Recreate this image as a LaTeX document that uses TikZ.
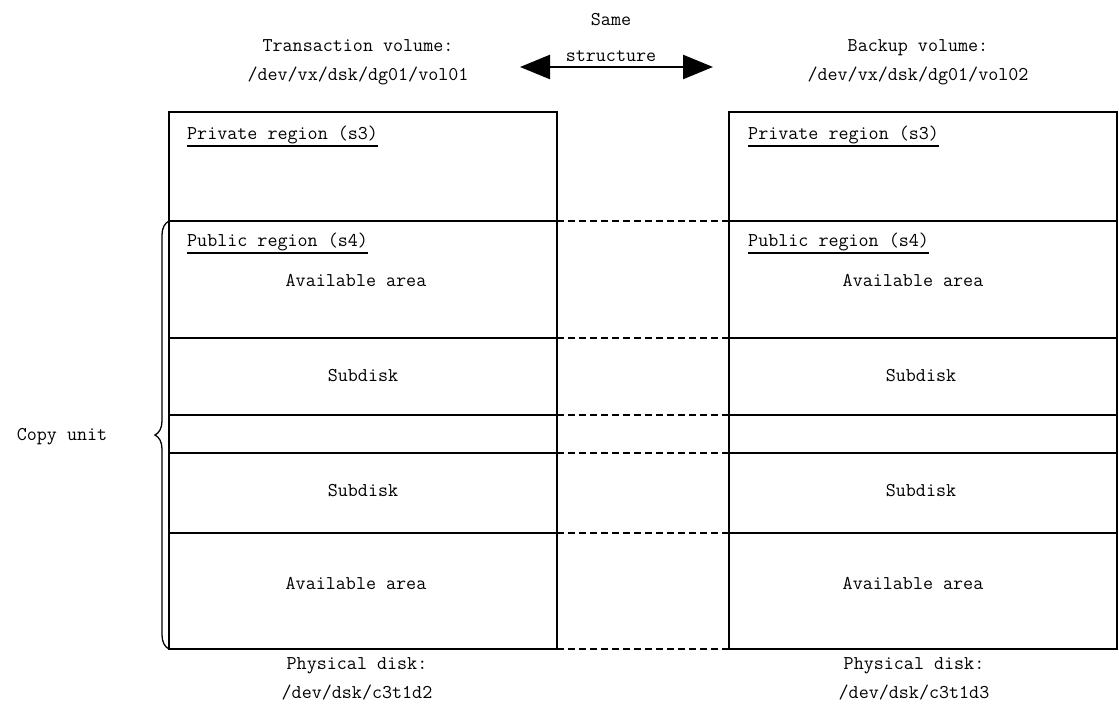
\documentclass[tikz,border=0pt]{standalone}
\usepackage{fontspec}
\usetikzlibrary{arrows.meta,decorations.pathreplacing}
\begin{document}
\begin{tikzpicture}[x=1pt,y=-1pt,
  seg/.style={draw,line width=1.3pt,minimum width=388pt,inner sep=0pt,outer sep=0pt,anchor=north west},
  lbl/.style={font=\fontsize{19.5}{29}\selectfont\ttfamily,inner sep=0pt,align=center},
  tag/.style={font=\fontsize{19.5}{29}\selectfont\ttfamily,inner sep=0pt,anchor=base west},
  uline/.style={line width=1.3pt},
  link/.style={line width=1.3pt,dash pattern=on 7pt off 4pt},
  bigarrow/.style={line width=2.5pt,{Triangle[length=30pt,width=24pt]}-{Triangle[length=30pt,width=24pt]}}
]
\useasboundingbox (0,0) rectangle (1119,708);

% Volume headings and the double arrow between them
\node[lbl] (tv) at (358,62) {Transaction volume:\\/dev/vx/dsk/dg01/vol01};
\node[lbl] (bv) at (918,62) {Backup volume:\\/dev/vx/dsk/dg01/vol02};
\node[font=\fontsize{19.5}{36}\selectfont\ttfamily,inner sep=0pt,align=center] (same) at (611,37) {Same\\structure};
\coordinate (arrL) at (520,67);
\coordinate (arrR) at (713,67);
\draw[bigarrow] (arrL) -- (arrR);

% Left disk: transaction volume
\node[seg,minimum height=109pt] (L1) at (169,112) {};
\node[seg,minimum height=117pt] (L2) at (169,221) {};
\node[seg,minimum height=77pt]  (L3) at (169,338) {};
\node[seg,minimum height=38pt]  (L4) at (169,415) {};
\node[seg,minimum height=80pt]  (L5) at (169,453) {};
\node[seg,minimum height=116pt] (L6) at (169,533) {};

% Right disk: backup volume
\node[seg,minimum height=109pt] (R1) at (729,112) {};
\node[seg,minimum height=117pt] (R2) at (729,221) {};
\node[seg,minimum height=77pt]  (R3) at (729,338) {};
\node[seg,minimum height=38pt]  (R4) at (729,415) {};
\node[seg,minimum height=80pt]  (R5) at (729,453) {};
\node[seg,minimum height=116pt] (R6) at (729,533) {};

% Region titles with underlines
\node[tag] (lpriv) at (187,140) {Private region (s3)};
\node[tag] (lpub)  at (187,247) {Public region (s4)};
\node[tag] (rpriv) at (748,140) {Private region (s3)};
\node[tag] (rpub)  at (748,247) {Public region (s4)};
\foreach \n in {lpriv,lpub,rpriv,rpub}
  \draw[uline] ([yshift=-6pt]\n.base west) -- ([yshift=-6pt]\n.base east);

% Area labels
\node[lbl] (la1) at (356,280) {Available area};
\node[lbl] (ls1) at (363,376) {Subdisk};
\node[lbl] (ls2) at (363,491) {Subdisk};
\node[lbl] (la2) at (356,583) {Available area};
\node[lbl] (ra1) at (913,280) {Available area};
\node[lbl] (rs1) at (921,376) {Subdisk};
\node[lbl] (rs2) at (921,491) {Subdisk};
\node[lbl] (ra2) at (913,583) {Available area};

% Dashed lines joining matching boundaries
\draw[link] (L1.south east) -- (R1.south west);
\draw[link] (L2.south east) -- (R2.south west);
\draw[link] (L3.south east) -- (R3.south west);
\draw[link] (L4.south east) -- (R4.south west);
\draw[link] (L5.south east) -- (R5.south west);
\draw[link] (L6.south east) -- (R6.south west);

% Copy unit brace
\draw[line width=1.3pt,decorate,decoration={brace,amplitude=14pt}] (L6.south west) -- (L2.north west);
\node[lbl] (cu) at (62,437) {Copy unit};

% Physical disk captions
\node[lbl] (lpd) at (357,679) {Physical disk:\\/dev/dsk/c3t1d2};
\node[lbl] (rpd) at (914,679) {Physical disk:\\/dev/dsk/c3t1d3};
\end{tikzpicture}
\end{document}
